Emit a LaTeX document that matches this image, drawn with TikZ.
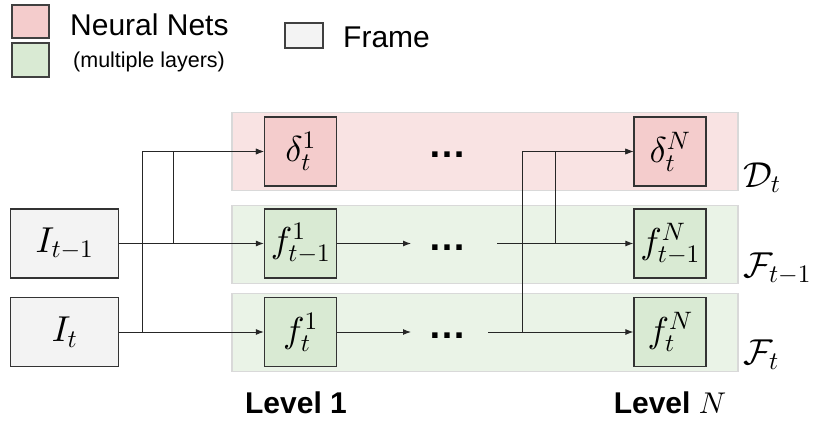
\documentclass[tikz,border=0pt]{standalone}
\usepackage{fontspec}
\newfontfamily\arialfont{Liberation Sans}
\usetikzlibrary{positioning, arrows.meta}
% scalable math fonts for the large box labels
\DeclareFontShape{OML}{cmm}{m}{it}{<->cmmi10}{}
\DeclareFontShape{OMS}{cmsy}{m}{n}{<->cmsy10}{}
\DeclareFontShape{OT1}{cmr}{m}{n}{<->cmr10}{}

\definecolor{netred}{HTML}{F4CCCC}
\definecolor{netgreen}{HTML}{D9EAD3}
\definecolor{framegray}{HTML}{F3F3F3}
\definecolor{bandred}{HTML}{F9E3E3}
\definecolor{bandgreen}{HTML}{EAF3E7}
\definecolor{bandline}{HTML}{D9D9D9}

\newcommand{\boxmath}{\fontsize{36}{42}\selectfont}
\newcommand{\legendfont}{\arialfont\fontsize{30}{36}\selectfont}
\newcommand{\notefont}{\arialfont\fontsize{21.5}{26}\selectfont}
\newcommand{\levelfont}{\arialfont\bfseries\fontsize{30}{36}\selectfont}
\newcommand{\dotsfont}{\arialfont\bfseries\fontsize{38}{44}\selectfont}

\begin{document}
\begin{tikzpicture}[x=1pt, y=-1pt,
  unit/.style={rectangle, draw=black!80, line width=1.2pt, inner sep=0pt,
               minimum width=72pt, minimum height=69pt, font=\boxmath},
  deltabox/.style={unit, fill=netred},
  featbox/.style={unit, fill=netgreen},
  framebox/.style={unit, fill=framegray, minimum width=108pt},
  band/.style={rectangle, draw=bandline, line width=1.5pt, inner sep=0pt,
               minimum width=506pt, minimum height=78pt},
  legbox/.style={rectangle, draw=black!75, line width=1.2pt, inner sep=0pt,
                 minimum width=37pt, minimum height=33pt},
  txt/.style={inner sep=0pt, anchor=base west},
  dots/.style={inner sep=0pt, font=\dotsfont},
  line/.style={draw=black!85, line width=1pt, -{Latex[length=8pt,width=6pt]}}
]
\useasboundingbox (0,0) rectangle (813,423);
% Legend
\node[legbox, fill=netred] (legRed) at (30.5,21.5) {};
\node[legbox, fill=netgreen, minimum height=34pt] (legGreen) at (30.5,60) {};
\node[legbox, fill=framegray, minimum width=38pt, minimum height=25pt] (legFrame) at (304,35.5) {};
\node[txt, font=\legendfont] (txtNets) at (70,35) {Neural Nets};
\node[txt, font=\notefont] (txtLayers) at (73,67) {(multiple layers)};
\node[txt, font=\legendfont] (txtFrame) at (343,47) {Frame};
% Bands
\node[band, fill=bandred] (bandD) at (485,151.5) {};
\node[band, fill=bandgreen] (bandP) at (485,244.5) {};
\node[band, fill=bandgreen] (bandC) at (485,332.5) {};
% Nodes
\node[framebox] (Iprev) at (64.5,243.5) {$I_{t-1}$};
\node[framebox] (Icur) at (64.5,332) {$I_t$};
\node[deltabox] (d1) at (300.5,151.5) {$\delta_t^1$};
\node[featbox] (f1prev) at (300.5,243.5) {$f_{t-1}^1$};
\node[featbox] (f1cur) at (300.5,332) {$f_t^1$};
\node[deltabox] (dN) at (670,151.5) {$\delta_t^N$};
\node[featbox] (fNprev) at (670,243.5) {$f_{t-1}^N$};
\node[featbox] (fNcur) at (670,332) {$f_t^N$};
\node[dots] (dotsD) at (447.5,155) {\char"2026};
\node[dots] (dotsP) at (447.5,248) {\char"2026};
\node[dots] (dotsC) at (447.5,336) {\char"2026};
\coordinate (outP) at (411,243.5);
\coordinate (outC) at (411,332);
\coordinate (inP) at (497,243.5);
\coordinate (inC) at (488,332);
% Labels
\node[txt, font=\boxmath] (lblD) at (743,187) {$\mathcal{D}_t$};
\node[txt, font=\boxmath] (lblP) at (743,277) {$\mathcal{F}_{t-1}$};
\node[txt, font=\boxmath] (lblC) at (743,364) {$\mathcal{F}_t$};
\node[inner sep=0pt, anchor=base, font=\levelfont] (lev1) at (296,413) {Level 1};
\node[inner sep=0pt, anchor=base, font=\levelfont] (levN) at (670,413) {Level $N$};
% Edges
\path[line] (Iprev) -- (f1prev);
\path[line] (Icur) -- (f1cur);
\path[line] (Icur.east) -- ++(23,0) |- (d1);
\path[line] (Iprev.east) -- ++(54,0) |- (d1);
\path[line] (f1prev) -- (outP);
\path[line] (f1cur) -- (outC);
\path[line] (inP) -- (fNprev);
\path[line] (inC) -- (fNcur);
\path[line] (inC) -- ++(34,0) |- (dN);
\path[line] (inP) -- ++(58,0) |- (dN);
\end{tikzpicture}
\end{document}
